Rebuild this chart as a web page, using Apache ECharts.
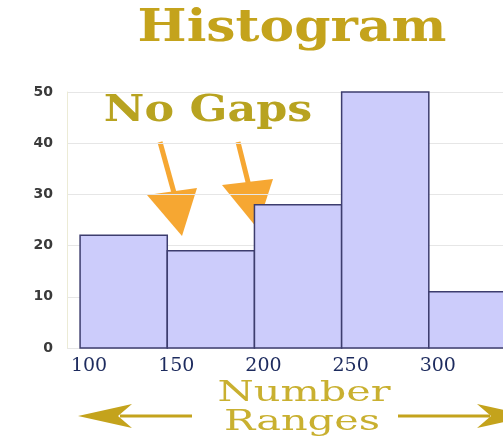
<!DOCTYPE html>
<html>
<head>
<meta charset="utf-8">
<title>Histogram</title>
<script src="https://cdn.jsdelivr.net/npm/echarts@6/dist/echarts.min.js"></script>
<style>
  html, body { margin: 0; padding: 0; background: #fff; }
  #chart { width: 503px; height: 443px; }
</style>
</head>
<body>
<div id="chart"></div>
<script>
// histogram bins (count per range)
var binStarts = [100, 150, 200, 250, 300];
var binEnds = [150, 200, 250, 300, 350];
var counts = [22, 19, 28, 50, 11];
var xTickValues = [100, 150, 200, 250, 300, 350];

var gold = '#c4a31c';
var orange = '#f6a732';

function get_histogram_option() {
    var binData = binStarts.map(function (s, i) {
        return [s, binEnds[i], counts[i]];
    });
    return {
        backgroundColor: '#fff',
        animation: false,
        grid: {
            left: 67,
            top: 92,
            bottom: 95,
            width: 449,
            outerBoundsMode: 'none',
            containLabel: false
        },
        xAxis: {
            type: 'value',
            min: 92.5,
            max: 350,
            axisLine: { show: false },
            axisTick: { show: false },
            splitLine: { show: false },
            axisLabel: {
                customValues: xTickValues,
                margin: 9,
                padding: [0, 0, 0, 18],
                color: '#1d2b5e',
                fontSize: 19,
                fontFamily: 'DejaVu Serif'
            }
        },
        yAxis: {
            type: 'value',
            min: 0,
            max: 50,
            interval: 10,
            axisLine: { show: true, lineStyle: { color: '#ecebd6' } },
            axisTick: { show: false },
            splitLine: { lineStyle: { color: '#e6e6e6' } },
            axisLabel: {
                color: '#3a3a3a',
                fontSize: 14,
                fontWeight: 'bold',
                fontFamily: 'DejaVu Sans',
                margin: 14
            }
        },
        series: [{
            type: 'custom',
            data: binData,
            encode: { x: [0, 1], y: 2 },
            renderItem: function (params, api) {
                var topLeft = api.coord([api.value(0), api.value(2)]);
                var bottomRight = api.coord([api.value(1), 0]);
                return {
                    type: 'rect',
                    shape: {
                        x: topLeft[0],
                        y: topLeft[1],
                        width: bottomRight[0] - topLeft[0],
                        height: bottomRight[1] - topLeft[1]
                    },
                    style: { fill: '#ccccfb', stroke: '#3d3d6e', lineWidth: 1.5 }
                };
            }
        }],
        graphic: [
            // title
            {
                type: 'text', x: 292, y: 8, scaleX: 1.18,
                style: { text: 'Histogram', font: 'bold 44px "DejaVu Serif"', fill: gold,
                         textAlign: 'center', textVerticalAlign: 'top' }
            },
            {
                type: 'text', x: 208, y: 93, scaleX: 1.2,
                style: { text: 'No Gaps', font: 'bold 37px "DejaVu Serif"', fill: '#b8a320',
                         textAlign: 'center', textVerticalAlign: 'top' }
            },
            // orange arrows
            {
                type: 'polyline', shape: { points: [[160, 142], [176, 200]] },
                style: { stroke: orange, lineWidth: 5 }
            },
            {
                type: 'polygon', shape: { points: [[147, 195], [197, 188], [182, 236]] },
                style: { fill: orange }
            },
            {
                type: 'polyline', shape: { points: [[238, 142], [250, 190]] },
                style: { stroke: orange, lineWidth: 5 }
            },
            {
                type: 'polygon', shape: { points: [[222, 185], [273, 179], [257, 228]] },
                style: { fill: orange }
            },
            // axis caption
            {
                type: 'text', x: 304, y: 380, scaleX: 1.48,
                style: { text: 'Number', font: '28px "DejaVu Serif"', fill: '#c9b030',
                         textAlign: 'center', textVerticalAlign: 'top' }
            },
            {
                type: 'text', x: 302, y: 409, scaleX: 1.48,
                style: { text: 'Ranges', font: '28px "DejaVu Serif"', fill: '#c9b030',
                         textAlign: 'center', textVerticalAlign: 'top' }
            },
            // gold double arrows
            {
                type: 'polyline', shape: { points: [[120, 416], [192, 416]] },
                style: { stroke: gold, lineWidth: 3 }
            },
            {
                type: 'polygon', shape: { points: [[78, 416], [132, 404], [118, 416], [132, 428]] },
                style: { fill: gold }
            },
            {
                type: 'polyline', shape: { points: [[398, 416], [490, 416]] },
                style: { stroke: gold, lineWidth: 3 }
            },
            {
                type: 'polygon', shape: { points: [[531, 416], [477, 404], [491, 416], [477, 428]] },
                style: { fill: gold }
            }
        ]
    };
}

var histogram_chart = echarts.init(document.getElementById('chart'));
histogram_chart.setOption(get_histogram_option());
</script>
</body>
</html>
